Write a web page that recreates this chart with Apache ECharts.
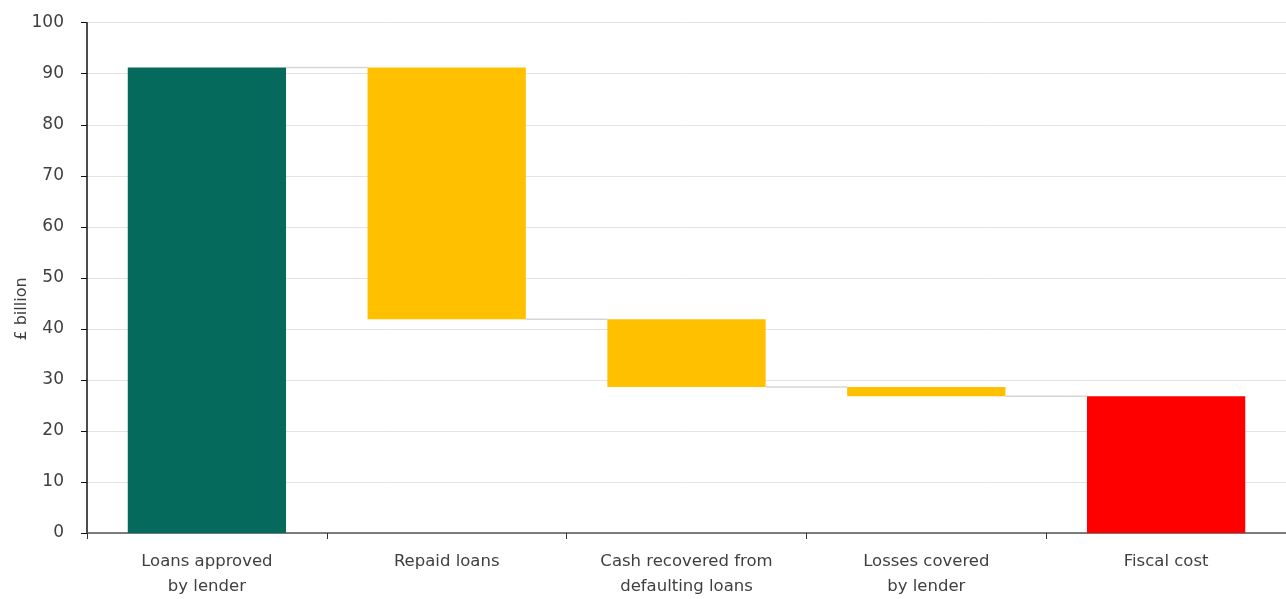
<!DOCTYPE html>
<html>
<head>
<meta charset="utf-8">
<script src="https://cdn.jsdelivr.net/npm/echarts@6/dist/echarts.min.js"></script>
<style>
html,body{margin:0;padding:0;background:#fff;}
#chart{width:1286px;height:599px;}
</style>
</head>
<body>
<div id="chart"></div>
<script>
var categories = ['Loans approved\nby lender', 'Repaid loans', 'Cash recovered from\ndefaulting loans', 'Losses covered\nby lender', 'Fiscal cost'];
var loansApproved = 91.2;
var deductions = [49.3, 13.3, 1.8];
var fiscalCost = 26.8;
var yTicks = [0, 10, 20, 30, 40, 50, 60, 70, 80, 90, 100];

var colTeal = '#05695B', colYellow = '#FFC000', colRed = '#FF0000';
var barFrac = 0.66;

var bases = [0], heights = [loansApproved], colors = [colTeal];
var running = loansApproved;
var levels = [loansApproved];
deductions.forEach(function (d) {
  running = running - d;
  bases.push(running);
  heights.push(d);
  colors.push(colYellow);
  levels.push(running);
});
bases.push(0); heights.push(fiscalCost); colors.push(colRed);

var chart = echarts.init(document.getElementById('chart'), null, { renderer: 'canvas' });
var font = '"DejaVu Sans", sans-serif';

var series = [];
// connector lines from the edge of one bar to the edge of the next
series.push({
  type: 'custom', z: 1, silent: true,
  data: levels.map(function (lv, i) { return [i, lv]; }),
  renderItem: function (params, api) {
    var i = api.value(0), lv = api.value(1);
    var band = api.size([1, 0])[0];
    var p0 = api.coord([i, lv]);
    var p1 = api.coord([i + 1, lv]);
    return {
      type: 'line',
      shape: { x1: p0[0] + band * barFrac / 2, y1: p0[1], x2: p1[0] - band * barFrac / 2, y2: p1[1] },
      style: { stroke: '#d6d6d6', lineWidth: 1.5 }
    };
  }
});
series.push({
  type: 'bar', stack: 'w', data: bases, barWidth: (barFrac * 100) + '%', z: 3,
  itemStyle: { color: 'rgba(0,0,0,0)' }, silent: true
});
series.push({
  type: 'bar', stack: 'w', z: 3,
  data: heights.map(function (h, i) { return { value: h, itemStyle: { color: colors[i] } }; })
});

chart.setOption({
  animation: false,
  grid: { left: 87, right: -5, top: 22.7, bottom: 63.3, containLabel: false },
  xAxis: {
    type: 'category',
    data: categories,
    axisLine: { lineStyle: { color: '#555', width: 1.5 } },
    axisTick: { show: true, length: 6, lineStyle: { color: '#333' } },
    axisLabel: { color: '#404040', fontFamily: font, fontSize: 16.5, lineHeight: 25, margin: 16 },
    splitLine: { show: false }
  },
  yAxis: {
    type: 'value',
    min: 0, max: 100, interval: 10,
    axisLine: { show: true, lineStyle: { color: '#111', width: 1.5 } },
    axisTick: { show: true, length: 6, lineStyle: { color: '#111' } },
    axisLabel: { color: '#404040', fontFamily: font, fontSize: 17, margin: 23,
      formatter: function (v) { return yTicks.indexOf(v) >= 0 ? String(v) : ''; } },
    splitLine: { show: true, lineStyle: { color: '#e3e3e3', width: 1 } }
  },
  graphic: [{
    type: 'text', x: 22, y: 309, rotation: Math.PI / 2,
    style: { text: '£ billion', fill: '#404040', font: '16px ' + font, textAlign: 'center', textVerticalAlign: 'middle' }
  }],
  series: series
});
</script>
</body>
</html>
